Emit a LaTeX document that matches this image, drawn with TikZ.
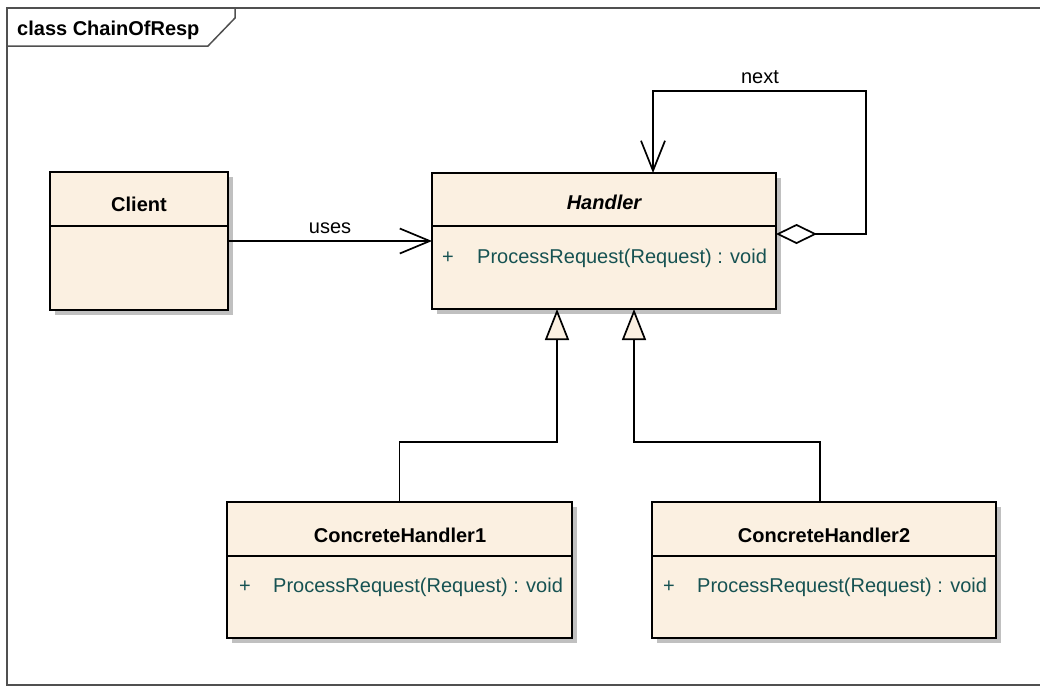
\documentclass[tikz,border=0pt]{standalone}
\usepackage{fontspec}
\setmainfont{Liberation Sans}
\usetikzlibrary{arrows.meta,calc,shadows}
\definecolor{classfill}{RGB}{251,240,225}
\definecolor{shadowgray}{RGB}{192,192,192}
\definecolor{methcol}{RGB}{22,82,82}
\definecolor{framecol}{RGB}{80,80,80}
\begin{document}
\begin{tikzpicture}[x=1pt,y=-1pt,
  every node/.style={font=\fontsize{20}{24}\selectfont},
  classbox/.style={draw=black, line width=2pt, fill=classfill, inner sep=0pt, outer sep=0pt,
    anchor=north west, drop shadow={shadow xshift=5pt, shadow yshift=-5pt, fill=shadowgray, opacity=1}},
  divider/.style={line width=1.6pt},
  cname/.style={anchor=base, inner sep=0pt, font=\fontsize{20}{24}\selectfont\bfseries},
  meth/.style={anchor=base west, inner sep=0pt, text=methcol},
  lbl/.style={anchor=base, inner sep=0pt},
  conn/.style={line width=1.7pt, line join=miter},
  gen/.style={conn, -{Triangle[open, length=31pt, width=24pt, line width=1.7pt, fill=classfill]}},
  dep/.style={conn, -{Straight Barb[length=30pt, width=25pt, line width=1.7pt]}},
  agg/.style={conn, {Diamond[open, length=41pt, width=20pt, line width=1.7pt, fill=white]}-{Straight Barb[length=30pt, width=24pt, line width=1.7pt]}}
]
\useasboundingbox (0,0) rectangle (1040,686);
% frame
\draw[framecol, line width=1.5pt] (1050,8) -- (7,8) -- (7,685) -- (1050,685);
\draw[framecol, line width=1.5pt] (7,46) -- (208,46) -- (235,18) -- (235,8);
\node[anchor=base west, inner sep=0pt, font=\fontsize{20}{24}\selectfont\bfseries] (title) at (17,35) {class ChainOfResp};

% classes
\node[classbox, minimum width=178pt, minimum height=138pt] (client) at (50,172) {};
\node[classbox, minimum width=344pt, minimum height=136pt] (handler) at (432,173) {};
\node[classbox, minimum width=345pt, minimum height=136pt] (ch1) at (227,502) {};
\node[classbox, minimum width=344pt, minimum height=136pt] (ch2) at (652,502) {};

\draw[divider] ($(client.north west)+(0,54)$) -- ($(client.north east)+(0,54)$);
\draw[divider] ($(handler.north west)+(0,53)$) -- ($(handler.north east)+(0,53)$);
\draw[divider] ($(ch1.north west)+(0,54)$) -- ($(ch1.north east)+(0,54)$);
\draw[divider] ($(ch2.north west)+(0,54)$) -- ($(ch2.north east)+(0,54)$);

\node[cname] (clientname) at (139,211) {Client};
\node[cname, font=\fontsize{20}{24}\selectfont\bfseries\itshape] (handlername) at (604,209) {Handler};
\node[cname] (ch1name) at (400,542) {ConcreteHandler1};
\node[cname] (ch2name) at (824,542) {ConcreteHandler2};

\node[lbl, text=methcol] (hplus) at (448,263) {+};
\node[meth] (hmeth) at (477,263) {ProcessRequest(Request) : void};
\node[lbl, text=methcol] (c1plus) at (245,592) {+};
\node[meth] (c1meth) at (273,592) {ProcessRequest(Request) : void};
\node[lbl, text=methcol] (c2plus) at (669,592) {+};
\node[meth] (c2meth) at (697,592) {ProcessRequest(Request) : void};

% connectors
\draw[dep] (client.east) -- node[lbl, pos=0.5, yshift=8pt] (useslbl) {uses} (handler.west);
\draw[agg] ($(handler.east)+(0,-7)$) -| ($(handler.north)+(262,-82)$) -| ($(handler.north)+(49,0)$);
\node[lbl] (nextlbl) at (760,83) {next};
\draw[gen] (ch1.north) -- ++(0,-60) -| ($(handler.south)+(-47,0)$);
\draw[gen] ($(ch2.north)+(-4,0)$) -- ++(0,-60) -| ($(handler.south)+(30,0)$);
\end{tikzpicture}
\end{document}
